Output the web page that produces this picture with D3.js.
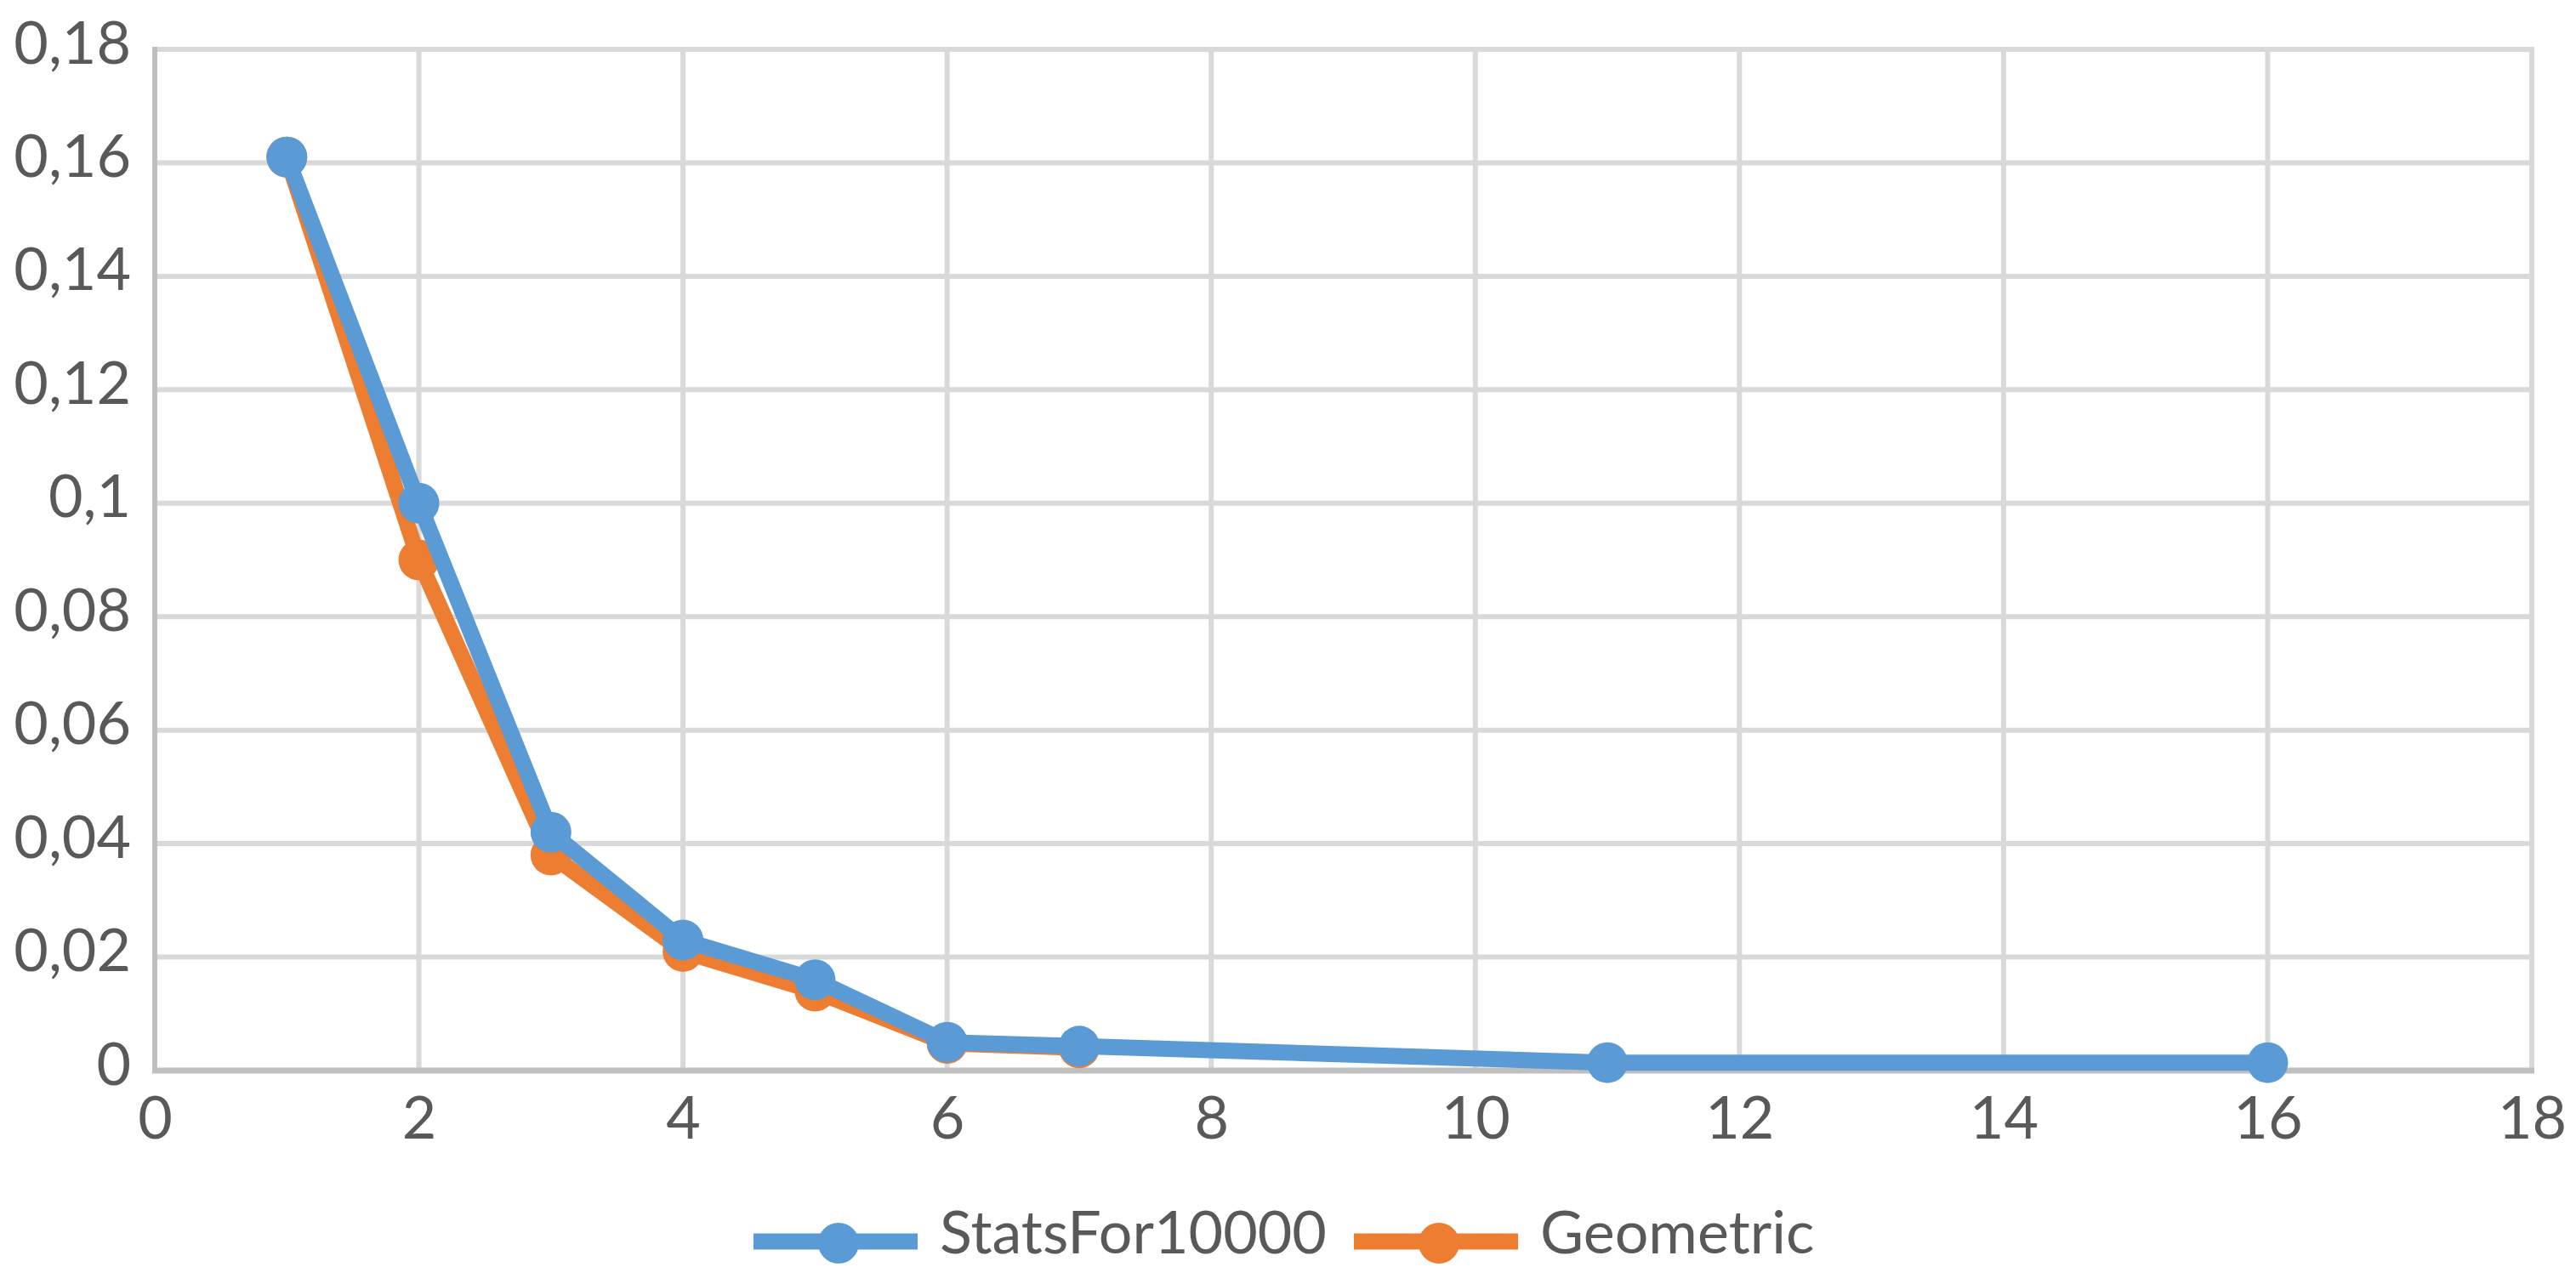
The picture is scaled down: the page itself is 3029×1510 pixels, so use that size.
<!DOCTYPE html>
<html>
<head>
<meta charset="utf-8">
<script src="https://cdn.jsdelivr.net/npm/d3@7"></script>
<style>
  html, body { margin: 0; padding: 0; background: #ffffff; }
  svg { display: block; }
</style>
</head>
<body>
<svg id="chart" width="3029" height="1510"></svg>
<script>
// ---- data ----
const seriesNames = ["StatsFor10000", "Geometric"];
const statsX = [1, 2, 3, 4, 5, 6, 7, 11, 16];
const statsY = [0.161, 0.100, 0.042, 0.023, 0.016, 0.005, 0.0043, 0.0014, 0.0014];
const geoX = [1, 2, 3, 4, 5, 6, 7];
const geoY = [0.161, 0.090, 0.038, 0.021, 0.014, 0.0048, 0.004];
const xTicks = [0, 2, 4, 6, 8, 10, 12, 14, 16, 18];
const yTicks = [0, 0.02, 0.04, 0.06, 0.08, 0.1, 0.12, 0.14, 0.16, 0.18];
const colors = ["#5b9bd5", "#ed7d31"];

// ---- layout ----
const W = 3029, H = 1510;
const plot = { left: 182, right: 2977, top: 58, bottom: 1259 };
const fontFamily = "Lato, 'Open Sans', sans-serif";
const fontSize = 70;
const textColor = "#595959";

const svg = d3.select("#chart");
svg.append("rect").attr("width", W).attr("height", H).attr("fill", "#ffffff");

const x = d3.scaleLinear().domain([0, 18]).range([plot.left, plot.right]);
const y = d3.scaleLinear().domain([0, 0.18]).range([plot.bottom, plot.top]);

// gridlines
const grid = svg.append("g");
grid.selectAll("line.hg").data(yTicks.filter(d => d > 0)).enter().append("line")
  .attr("x1", plot.left).attr("x2", plot.right)
  .attr("y1", d => y(d)).attr("y2", d => y(d))
  .attr("stroke", "#d9d9d9").attr("stroke-width", 6);
grid.selectAll("line.vg").data(xTicks.filter(d => d > 0)).enter().append("line")
  .attr("y1", plot.top - 3).attr("y2", plot.bottom)
  .attr("x1", d => x(d)).attr("x2", d => x(d))
  .attr("stroke", "#d9d9d9").attr("stroke-width", 6);

// axis lines
svg.append("line")
  .attr("x1", x(0)).attr("x2", x(0)).attr("y1", plot.top - 3).attr("y2", plot.bottom + 3)
  .attr("stroke", "#bfbfbf").attr("stroke-width", 6);
svg.append("line")
  .attr("x1", plot.left - 3).attr("x2", plot.right + 3).attr("y1", y(0)).attr("y2", y(0))
  .attr("stroke", "#bfbfbf").attr("stroke-width", 7);

// axes labels via d3 axes
const fmt = d => String(d).replace(".", ",");
const yAxis = d3.axisLeft(y).tickValues(yTicks).tickFormat(fmt).tickSize(0).tickPadding(28);
const gy = svg.append("g").attr("transform", `translate(${plot.left},0)`).call(yAxis);
gy.select(".domain").remove();
gy.selectAll("text")
  .attr("font-family", fontFamily).attr("font-size", fontSize).attr("fill", textColor)
  .attr("dy", null).attr("y", 16).attr("dominant-baseline", "alphabetic");

const xAxis = d3.axisBottom(x).tickValues(xTicks).tickFormat(fmt).tickSize(0).tickPadding(0);
const gx = svg.append("g").attr("transform", `translate(0,${plot.bottom})`).call(xAxis);
gx.select(".domain").remove();
gx.selectAll("text")
  .attr("font-family", fontFamily).attr("font-size", fontSize).attr("fill", textColor)
  .attr("dy", null).attr("y", 80).attr("dominant-baseline", "alphabetic");

// series
const line = d3.line().x(d => x(d[0])).y(d => y(d[1]));
const series = [
  { name: seriesNames[1], pts: geoX.map((v, i) => [v, geoY[i]]), color: colors[1] },
  { name: seriesNames[0], pts: statsX.map((v, i) => [v, statsY[i]]), color: colors[0] }
];
const markerR = 24;
series.forEach(s => {
  const g = svg.append("g");
  g.append("path").datum(s.pts).attr("d", line)
    .attr("fill", "none").attr("stroke", s.color).attr("stroke-width", 19)
    .attr("stroke-linejoin", "round");
  g.selectAll("circle").data(s.pts).enter().append("circle")
    .attr("cx", d => x(d[0])).attr("cy", d => y(d[1])).attr("r", markerR)
    .attr("fill", s.color);
});

// legend
const legendItems = [
  { name: seriesNames[0], color: colors[0], x0: 886 },
  { name: seriesNames[1], color: colors[1], x0: 1592 }
];
const legY = 1460;
const lg = svg.append("g");
legendItems.forEach(it => {
  lg.append("line").attr("x1", it.x0).attr("x2", it.x0 + 193)
    .attr("y1", legY).attr("y2", legY)
    .attr("stroke", it.color).attr("stroke-width", 19);
  lg.append("circle").attr("cx", it.x0 + 100).attr("cy", legY + 2).attr("r", markerR)
    .attr("fill", it.color);
  lg.append("text").attr("x", it.x0 + 219).attr("y", 1474)
    .attr("font-family", fontFamily).attr("font-size", fontSize).attr("fill", textColor)
    .text(it.name);
});
</script>
</body>
</html>
